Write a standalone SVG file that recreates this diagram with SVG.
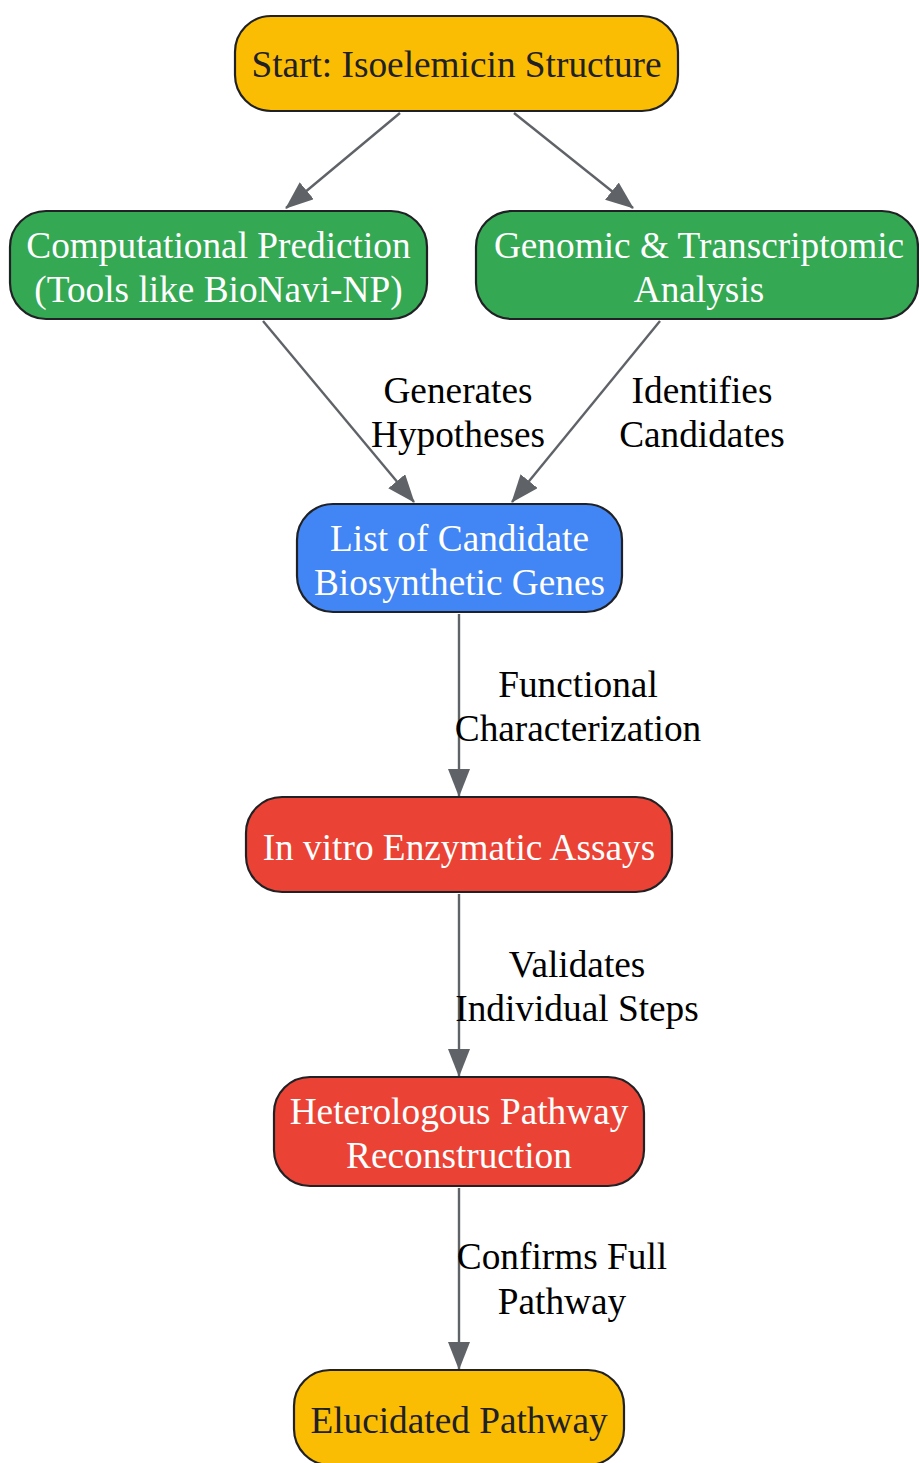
<svg xmlns="http://www.w3.org/2000/svg" width="919" height="1463" viewBox="0 0 919 1463">
<style>
.n{stroke:#202124;stroke-width:2.2}
.t{font-family:"Liberation Serif","Times New Roman",serif;font-size:37.3px;text-anchor:middle}
.dk{fill:#202124}
.wh{fill:#ffffff}
.lb{fill:#000000}
.e{stroke:#5f6368;stroke-width:2.4;fill:none;marker-end:url(#ah)}
</style>
<defs>
<marker id="ah" viewBox="0 0 28 22" markerWidth="28" markerHeight="22" refX="27" refY="11" orient="auto" markerUnits="userSpaceOnUse">
<path d="M0,0 L28,11 L0,22 Z" fill="#5f6368"/>
</marker>
</defs>
<rect width="919" height="1463" fill="#ffffff"/>
<g id="connectors">
<path class="e" d="M400,113 L286,208"/>
<path class="e" d="M514,113 L633,208"/>
<path class="e" d="M263,321 L414,502"/>
<path class="e" d="M660,321 L512,502"/>
<path class="e" d="M459,614 L459,796"/>
<path class="e" d="M459,894 L459,1076"/>
<path class="e" d="M459,1188 L459,1369"/>
<text class="t lb" x="458" y="403">Generates</text>
<text class="t lb" x="458" y="447">Hypotheses</text>
<text class="t lb" x="702" y="403">Identifies</text>
<text class="t lb" x="702" y="447">Candidates</text>
<text class="t lb" x="578" y="697">Functional</text>
<text class="t lb" x="578" y="741">Characterization</text>
<text class="t lb" x="577" y="977">Validates</text>
<text class="t lb" x="577" y="1021">Individual Steps</text>
<text class="t lb" x="562" y="1269">Confirms Full</text>
<text class="t lb" x="562" y="1314">Pathway</text>
</g>
<g id="start">
<rect class="n" x="235" y="16" width="443" height="95" rx="36" fill="#FBBC04"/>
<text class="t dk" x="456.5" y="77">Start: Isoelemicin Structure</text>
</g>
<g id="computational">
<rect class="n" x="10" y="211" width="417" height="108" rx="36" fill="#34A853"/>
<text class="t wh" x="218.5" y="258">Computational Prediction</text>
<text class="t wh" x="218.5" y="302">(Tools like BioNavi-NP)</text>
</g>
<g id="genomic">
<rect class="n" x="476" y="211" width="442" height="108" rx="36" fill="#34A853"/>
<text class="t wh" x="699" y="258">Genomic &amp; Transcriptomic</text>
<text class="t wh" x="699" y="302">Analysis</text>
</g>
<g id="candidates">
<rect class="n" x="297" y="504" width="325" height="108" rx="36" fill="#4285F4"/>
<text class="t wh" x="459.5" y="551">List of Candidate</text>
<text class="t wh" x="459.5" y="595">Biosynthetic Genes</text>
</g>
<g id="assays">
<rect class="n" x="246" y="797" width="426" height="95" rx="36" fill="#EA4335"/>
<text class="t wh" x="459" y="860">In vitro Enzymatic Assays</text>
</g>
<g id="reconstruction">
<rect class="n" x="274" y="1077" width="370" height="109" rx="36" fill="#EA4335"/>
<text class="t wh" x="459" y="1124">Heterologous Pathway</text>
<text class="t wh" x="459" y="1168">Reconstruction</text>
</g>
<g id="elucidated">
<rect class="n" x="294" y="1370" width="330" height="95" rx="36" fill="#FBBC04"/>
<text class="t dk" x="459" y="1433">Elucidated Pathway</text>
</g>
</svg>
